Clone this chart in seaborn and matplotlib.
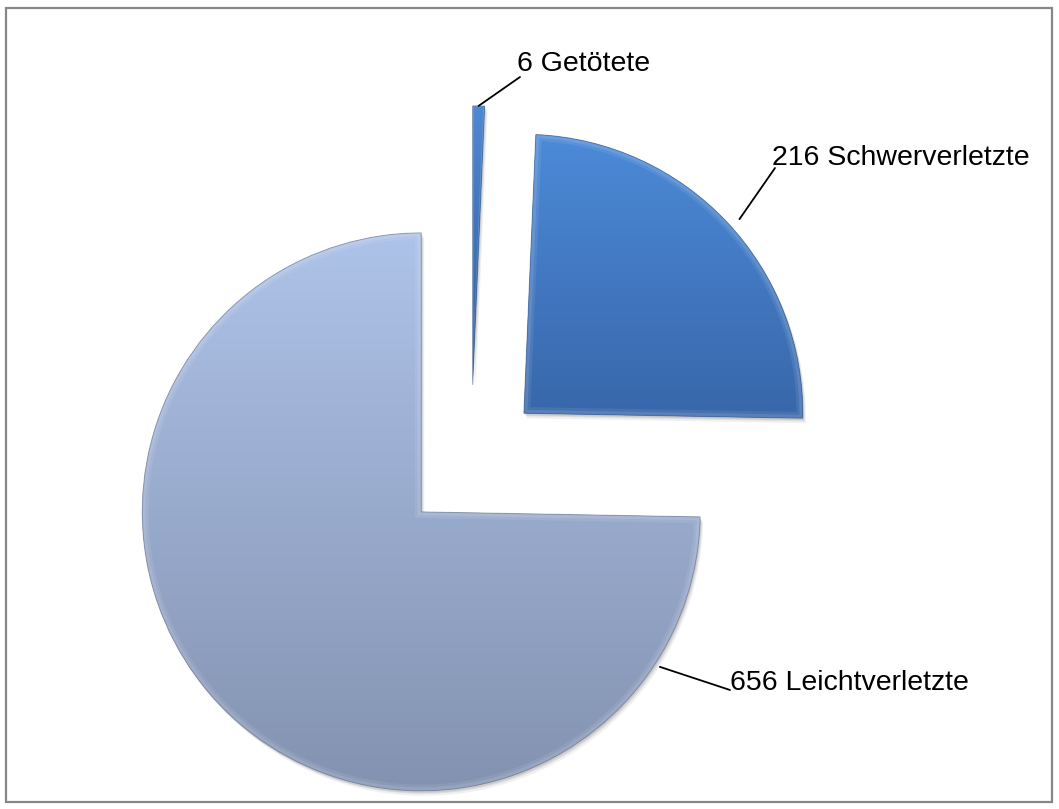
import numpy as np
import matplotlib
matplotlib.use("Agg")
import matplotlib.pyplot as plt
import seaborn as sns
from matplotlib.patches import Wedge, Rectangle
from matplotlib.colors import LinearSegmentedColormap

# Verunglückte nach Schwere der Verletzung
categories = ["Getötete", "Schwerverletzte", "Leichtverletzte"]
counts = [6, 216, 656]

# Farbverlauf je Segment (oben -> unten)
top_colors = ["#5088D2", "#4C8AD8", "#AEC3E9"]
bottom_colors = ["#2D5C9C", "#3867AA", "#8392B0"]
explode_frac = [0.28, 0.26, 0.25]

sns.set_theme(style="white")
plt.rcParams["font.family"] = ["Liberation Sans", "DejaVu Sans"]

W, H = 1059, 809
fig = plt.figure(figsize=(W / 100, H / 100), dpi=100)
ax = fig.add_axes([0, 0, 1, 1])

radius = 279
center = (471, 346)
base_colors = [sns.blend_palette([b, t], 3)[1] for t, b in zip(top_colors, bottom_colors)]

wedges, _ = ax.pie(
    counts,
    explode=[e * radius for e in explode_frac],
    startangle=90,
    counterclock=False,
    center=center,
    radius=radius,
    colors=base_colors,
    wedgeprops=dict(linewidth=0),
)

for w, top, bottom in zip(wedges, top_colors, bottom_colors):
    w.set_zorder(2)
    # weicher Schatten unter dem Segment
    for off, alpha in [((3, -5), 0.06), ((2, -3), 0.08), ((1, -2), 0.08)]:
        sh = Wedge((w.center[0] + off[0], w.center[1] + off[1]), w.r,
                   w.theta1, w.theta2, facecolor=(0, 0, 0, alpha),
                   linewidth=0, zorder=1)
        ax.add_patch(sh)
    # vertikaler Farbverlauf innerhalb des Segments
    ext = w.get_path().get_extents()
    cmap = LinearSegmentedColormap.from_list("seg", [bottom, top])
    grad = np.linspace(0, 1, 256).reshape(-1, 1)
    im = ax.imshow(grad, extent=[ext.x0, ext.x1, ext.y0, ext.y1], origin="lower",
                   cmap=cmap, aspect="auto", zorder=3, interpolation="bilinear")
    im.set_clip_path(w)
    # Lichtkante (Fase) innen am Rand
    thin = w.theta2 - w.theta1 < 10
    for lw_hi, a_hi in ([(2, 0.15)] if thin else [(9, 0.08), (5, 0.10)]):
        hi = Wedge(w.center, w.r, w.theta1, w.theta2, fill=False,
                   edgecolor=(1, 1, 1, a_hi), linewidth=lw_hi, zorder=4)
        ax.add_patch(hi)
        hi.set_clip_path(w)
    edge = Wedge(w.center, w.r, w.theta1, w.theta2, fill=False,
                 edgecolor=sns.blend_palette([bottom, "#1a2a44"], 3)[1],
                 linewidth=0.7, alpha=0.45, zorder=5)
    ax.add_patch(edge)

# Beschriftungen mit Führungslinien
leader_angles = [88.8, 42.0, -33.0]
leader_radii = [1.0, 1.04, 1.02]
label_pos = [(517, 745), (772, 651.5), (730, 126)]
leader_ends = [(520, 732), (775, 641), (730, 119)]

for w, cat, val, ang, fr, pos, end in zip(wedges, categories, counts,
                                          leader_angles, leader_radii,
                                          label_pos, leader_ends):
    a = np.deg2rad(ang)
    sx = w.center[0] + w.r * fr * np.cos(a)
    sy = w.center[1] + w.r * fr * np.sin(a)
    ax.plot([sx, end[0]], [sy, end[1]], color="black", linewidth=1.3, zorder=6)
    ax.text(pos[0], pos[1], f"{val} {cat}", fontsize=20.5, ha="left",
            va="center", color="black", zorder=7)

# Rahmen des Diagrammbereichs
ax.add_patch(Rectangle((6, 7), 1046, 794, fill=False, edgecolor="#878787",
                       linewidth=1.6, zorder=8))

ax.set_xlim(0, W)
ax.set_ylim(0, H)
ax.set_aspect("equal")
ax.axis("off")

fig.savefig("out.png", dpi=100, facecolor="white")
